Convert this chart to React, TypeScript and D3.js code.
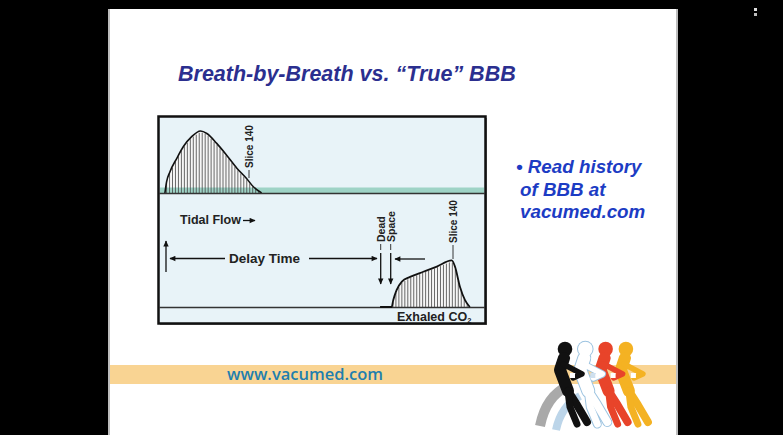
import React from 'react';
import * as d3 from 'd3';

// slide texts
const titleText = 'Breath-by-Breath vs. \u201CTrue\u201D BBB';
const noteLines = ['\u2022 Read history', 'of BBB at', 'vacumed.com'];
const footerText = 'www.vacumed.com';

// tidal flow curve (time units 0-100 across the box, flow normalised to peak)
const flowTime = [2.4, 2.9, 3.9, 6.0, 8.0, 10.5, 13.2, 15.1, 18.1, 21.1, 24.2, 27.2, 29.2, 31.7];
const flowValue = [0, 0.18, 0.34, 0.56, 0.75, 0.91, 1.0, 0.96, 0.8, 0.61, 0.4, 0.23, 0.1, 0];

// exhaled CO2 curve, same time axis
const co2Time = [67.6, 71.1, 71.6, 72.6, 74.2, 76.7, 80.7, 84.8, 89.3, 90.3, 91.8, 93.3, 94.8];
const co2Value = [0, 0, 0.15, 0.36, 0.54, 0.64, 0.75, 0.86, 0.99, 0.86, 0.43, 0.15, 0];

// logo runners, back to front
const runnerColors = ['#f4b223', '#e8442a', '#ffffff', '#111111'];

const font = '"Liberation Sans", Arial, Helvetica, sans-serif';

export default function App() {
  const x = d3.scaleLinear().domain([0, 100]).range([157, 487]);
  const yFlow = d3.scaleLinear().domain([0, 1]).range([193, 131]);
  const yCo2 = d3.scaleLinear().domain([0, 1]).range([307, 260]);

  const flowPts = flowTime.map((t, i) => [t, flowValue[i]] as [number, number]);
  const co2Pts = co2Time.map((t, i) => [t, co2Value[i]] as [number, number]);

  const flowLine = d3.line<[number, number]>().x(d => x(d[0])).y(d => yFlow(d[1])).curve(d3.curveMonotoneX);
  const flowArea = d3.area<[number, number]>().x(d => x(d[0])).y0(yFlow(0)).y1(d => yFlow(d[1])).curve(d3.curveMonotoneX);
  const co2Line = d3.line<[number, number]>().x(d => x(d[0])).y(d => yCo2(d[1])).curve(d3.curveMonotoneX);
  const co2Area = d3.area<[number, number]>().x(d => x(d[0])).y0(yCo2(0)).y1(d => yCo2(d[1])).curve(d3.curveMonotoneX);

  const flowAt = d3.scaleLinear().domain(flowTime).range(flowValue).clamp(true);
  const co2At = d3.scaleLinear().domain(co2Time).range(co2Value).clamp(true);
  const flowHatch = d3.range(flowTime[0] + 0.5, flowTime[flowTime.length - 1], 0.9);
  const co2Hatch = d3.range(co2Time[1] + 0.4, co2Time[co2Time.length - 1], 0.9);

  const arrow = (x1: number, y1: number, x2: number, y2: number, key: string) => (
    <line key={key} x1={x1} y1={y1} x2={x2} y2={y2} stroke="#111" strokeWidth={1.3} markerEnd="url(#ah)" />
  );

  const runner = (color: string, i: number) => {
    const dx = i * 20.3;
    const isWhite = color === '#ffffff';
    const parts = [
      { d: 'M-1,9 L-5,21 L3,42', w: 12 },
      { d: 'M3,42 L12,56 L22,73', w: 8 },
      { d: 'M3,42 L5,58 L12,75', w: 7 },
      { d: 'M-2,15 L17,25 L8,29', w: 5.5 },
    ];
    return (
      <g key={i} transform={`translate(${565 + dx},349)`}>
        {isWhite && parts.map((p, k) => (
          <path key={'o' + k} d={p.d} fill="none" stroke="#9cc3e0" strokeWidth={p.w + 2} strokeLinecap="round" strokeLinejoin="round" />
        ))}
        {isWhite && <circle r={8.3} fill="#9cc3e0" />}
        <circle r={7.3} fill={color} />
        {parts.map((p, k) => (
          <path key={k} d={p.d} fill="none" stroke={color} strokeWidth={p.w} strokeLinecap="round" strokeLinejoin="round" />
        ))}
        <rect x={5} y={24} width={5} height={5} fill={isWhite ? '#cfe0ee' : '#fff'} />
      </g>
    );
  };

  return (
    <svg width={783} height={435} style={{ position: 'absolute', left: 0, top: 0 }} fontFamily={font}>
      <defs>
        <marker id="ah" viewBox="0 0 10 10" refX="9" refY="5" markerWidth="7" markerHeight="6"
          markerUnits="userSpaceOnUse" orient="auto">
          <path d="M0,0.5 L10,5 L0,9.5 z" fill="#111" />
        </marker>
      </defs>
      <rect width={783} height={435} fill="#000" />
      {/* slide */}
      <rect x={108} y={9} width={570} height={426} fill="#bdbdbd" />
      <rect x={110} y={9} width={566} height={426} fill="#fff" />
      <rect x={754} y={8} width={3} height={3} fill="#ddd" />
      <rect x={754} y={13} width={3} height={3} fill="#bbb" />

      {/* title */}
      <text x={178} y={81} fontSize={21.5} fontWeight="bold" fontStyle="italic" fill="#2b2f8f">{titleText}</text>

      {/* note */}
      {noteLines.map((s, i) => (
        <text key={i} x={i === 0 ? 516 : 520} y={173 + i * 22.6} fontSize={18.8} fontWeight="bold" fontStyle="italic" fill="#1c3cc4">{s}</text>
      ))}

      {/* diagram box */}
      <rect x={160} y={118} width={327} height={207} fill="#8a8a8a" />
      <rect x={158.5} y={116.5} width={327} height={207} fill="#e8f3f8" stroke="#111" strokeWidth={2.5} />

      {/* top panel: tidal flow */}
      <path d={flowArea(flowPts) || ''} fill="#f6f6f6" />
      <rect x={160} y={187.5} width={324} height={5.5} fill="#9ed3c6" />
      {flowHatch.map((t, i) => (
        <line key={i} x1={x(t)} x2={x(t)} y1={yFlow(0)} y2={yFlow(flowAt(t)) + 1} stroke="#444" strokeWidth={0.8} />
      ))}
      <path d={flowLine(flowPts) || ''} fill="none" stroke="#111" strokeWidth={1.6} />
      <line x1={159} x2={485} y1={193.5} y2={193.5} stroke="#333" strokeWidth={1.5} />
      <text transform="translate(253,168) rotate(-90)" fontSize={10} fontWeight="bold" fill="#222">Slice 140</text>
      <line x1={249} x2={249} y1={170} y2={178} stroke="#222" strokeWidth={0.9} />

      {/* bottom panel */}
      <text x={180} y={224} fontSize={12.5} fontWeight="bold" fill="#222">Tidal Flow</text>
      {arrow(243, 220.5, 255, 220.5, 'tf')}
      {arrow(166, 272, 166, 241, 'up')}
      <text x={229} y={263} fontSize={13.5} fontWeight="bold" fill="#222">Delay Time</text>
      {arrow(225, 258.5, 170, 258.5, 'dl')}
      {arrow(309, 258.5, 377, 258.5, 'dr')}
      {arrow(425, 259, 395, 259, 'ds')}
      <text transform="translate(384.5,242) rotate(-90)" fontSize={10.5} fontWeight="bold" fill="#222">Dead</text>
      <text transform="translate(394.5,242) rotate(-90)" fontSize={10.5} fontWeight="bold" fill="#222">Space</text>
      <line x1={380.7} x2={380.7} y1={244} y2={250} stroke="#222" strokeWidth={0.9} />
      <line x1={390.7} x2={390.7} y1={244} y2={250} stroke="#222" strokeWidth={0.9} />
      {arrow(380.7, 253, 380.7, 284, 'd1')}
      {arrow(390.7, 253, 390.7, 284, 'd2')}

      <path d={co2Area(co2Pts) || ''} fill="#f6f6f6" />
      {co2Hatch.map((t, i) => (
        <line key={i} x1={x(t)} x2={x(t)} y1={yCo2(0)} y2={yCo2(co2At(t)) + 1} stroke="#444" strokeWidth={0.8} />
      ))}
      <line x1={159} x2={485} y1={307.5} y2={307.5} stroke="#333" strokeWidth={1.3} />
      <path d={co2Line(co2Pts) || ''} fill="none" stroke="#111" strokeWidth={1.8} />
      <text transform="translate(457,243) rotate(-90)" fontSize={10} fontWeight="bold" fill="#222">Slice 140</text>
      <line x1={453} x2={453} y1={245} y2={259} stroke="#222" strokeWidth={0.9} />
      <text x={397} y={321} fontSize={12.5} fontWeight="bold" fill="#222">
        Exhaled CO<tspan fontSize={7.5} dy={2}>2</tspan>
      </text>

      {/* footer band */}
      <rect x={110} y={365} width={566} height={19} fill="#f9d493" />
      <text x={227} y={380} fontSize={16.5} fontWeight={600} fill="#1f7fae" fontFamily='"Open Sans", sans-serif'>{footerText}</text>

      {/* logo */}
      <path d="M540,426 Q546,396 568,386" fill="none" stroke="#a9a9a9" strokeWidth={10} />
      <path d="M556,430 Q561,406 580,396" fill="none" stroke="#bcd5e9" strokeWidth={8} />
      {runnerColors.map((c, i) => runner(c, 3 - i))}
    </svg>
  );
}
